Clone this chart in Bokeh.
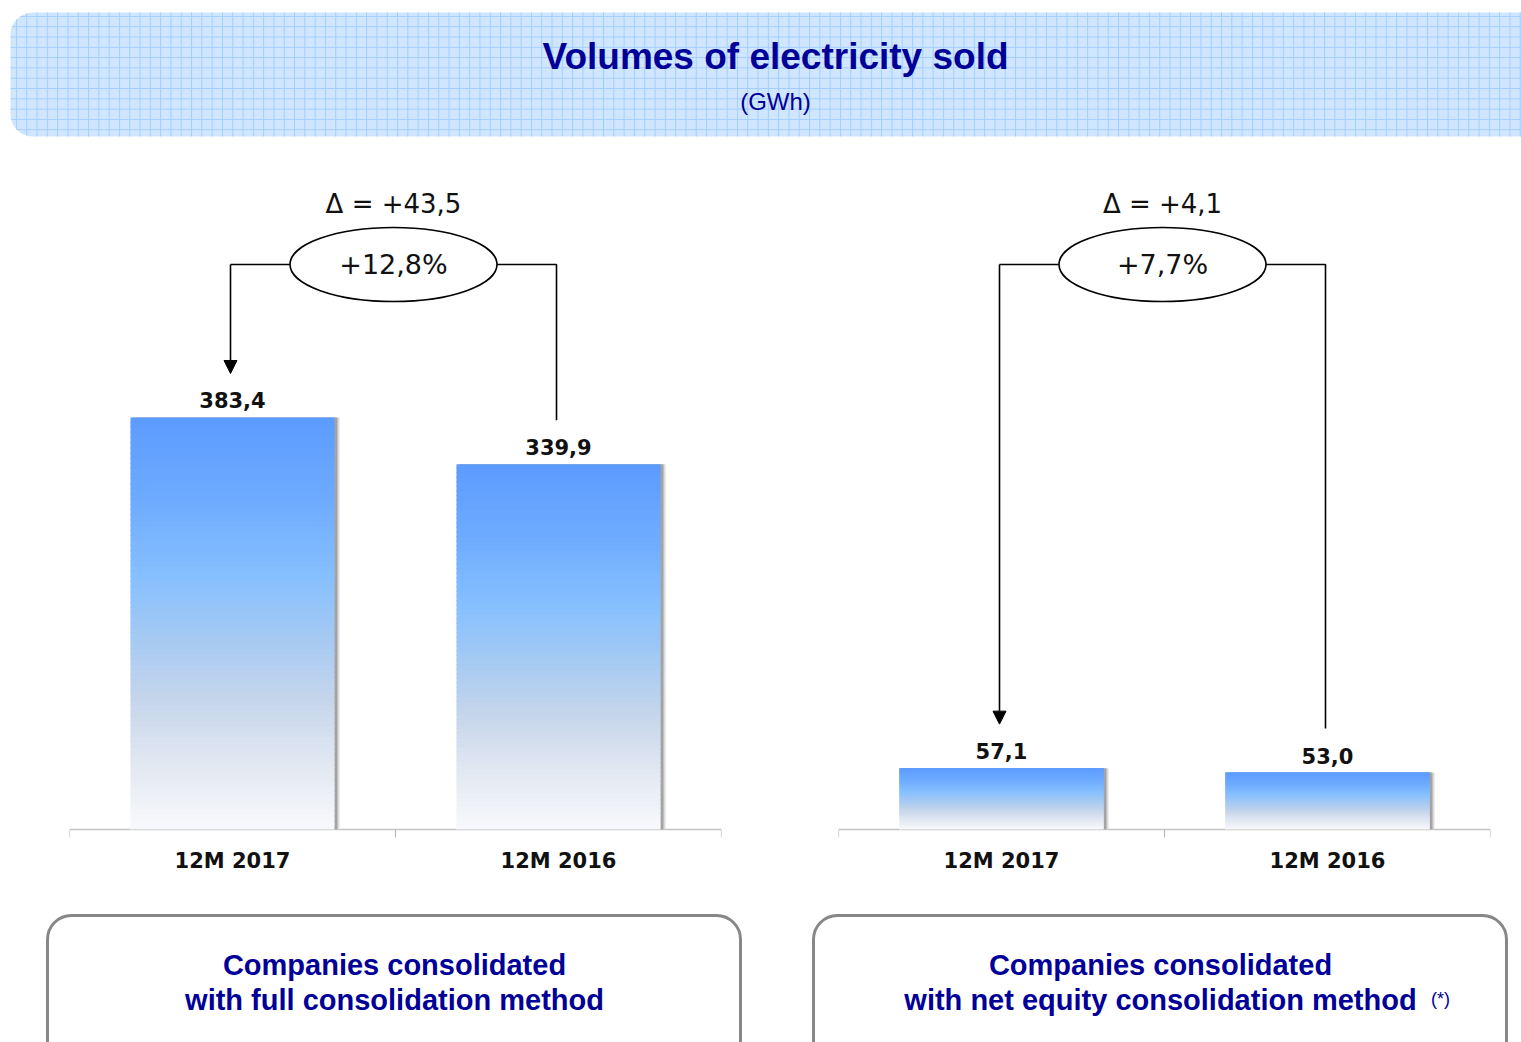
import numpy as np
from bokeh.plotting import figure
from bokeh.models import Range1d, ColumnDataSource, Arrow, NormalHead
from bokeh.layouts import column, row
from bokeh.core.properties import value
from bokeh.embed import file_html
from bokeh.resources import INLINE

# ---------------- data ----------------
title_text = "Volumes of electricity sold"
unit_text = "(GWh)"
categories = ["12M 2017", "12M 2016"]
full_values = [383.4, 339.9]
equity_values = [57.1, 53.0]
full_value_labels = ["383,4", "339,9"]
equity_value_labels = ["57,1", "53,0"]
full_delta = "Δ = +43,5"
equity_delta = "Δ = +4,1"
full_pct = "+12,8%"
equity_pct = "+7,7%"
full_caption = ["Companies consolidated", "with full consolidation method"]
equity_caption = ["Companies consolidated", "with net equity consolidation method"]
footnote_mark = "(*)"

# ---------------- layout / style ----------------
PAGE_W = 1521
HEADER_TOP, HEADER_BOTTOM = 0, 143
CHART_TOP, CHART_BOTTOM = 143, 900
BOX_TOP, BOX_BOTTOM = 900, 1042
SPLIT_X = 760
BASE_Y = 829          # page y of the zero line
K = 1.0746            # px per GWh
NAVY = "#000099"
VERDANA = value("DejaVu Sans")
ARIAL = value("Liberation Sans")
BAR_W = 0.626

grad_stops = [(0.0, "#f8f9fc"), (0.15, "#e3e9f2"), (0.31, "#c6d6eb"),
              (0.45, "#a8caf2"), (0.62, "#85bfff"), (0.80, "#6eabff"),
              (1.0, "#5c9bff")]


def hex2rgb(h):
    h = h.lstrip("#")
    return [int(h[i:i + 2], 16) for i in (0, 2, 4)]


def grad_color(t):
    for (t0, c0), (t1, c1) in zip(grad_stops[:-1], grad_stops[1:]):
        if t0 <= t <= t1:
            a = (t - t0) / (t1 - t0)
            r0, r1 = hex2rgb(c0), hex2rgb(c1)
            return "#%02x%02x%02x" % tuple(int(round(r0[i] + a * (r1[i] - r0[i]))) for i in range(3))
    return grad_stops[-1][1]


def base_fig(w, h, **kw):
    p = figure(width=w, height=h, toolbar_location=None, output_backend="svg",
               x_axis_location=None, y_axis_location=None, **kw)
    p.title.visible = False
    p.grid.visible = False
    p.outline_line_color = None
    p.background_fill_color = "white"
    p.border_fill_color = "white"
    return p


# ---------------- header ----------------
header = base_fig(PAGE_W, HEADER_BOTTOM - HEADER_TOP,
                  x_range=Range1d(0, PAGE_W), y_range=Range1d(HEADER_BOTTOM, HEADER_TOP),
                  min_border=0)
header.quad(left=[10], right=[1560], top=[12], bottom=[136], border_radius=(22, 0, 0, 22),
            fill_color="#d0e6ff", line_color=None,
            hatch_pattern="cross", hatch_color="#a2cdff", hatch_scale=10.3, hatch_weight=1)
header.text(x=[775], y=[56], text=[title_text], text_font=ARIAL, text_font_style="bold",
            text_font_size="37px", text_color=NAVY, text_align="center", text_baseline="middle")
header.text(x=[775], y=[101], text=[unit_text], text_font=ARIAL,
            text_font_size="24px", text_color=NAVY, text_align="center", text_baseline="middle")


# ---------------- charts ----------------
def chart(vals, vlabels, delta, pct, fig_left, fig_w, frame_left, frame_right):
    n = len(categories)
    p = base_fig(fig_w, CHART_BOTTOM - CHART_TOP,
                 x_range=Range1d(0, n),
                 y_range=Range1d((BASE_Y - CHART_BOTTOM) / K, (BASE_Y - CHART_TOP) / K),
                 min_border_left=frame_left - fig_left,
                 min_border_right=fig_left + fig_w - frame_right,
                 min_border_top=0, min_border_bottom=0)
    p.extra_x_ranges = {"px": Range1d(frame_left, frame_right)}
    p.extra_y_ranges = {"px": Range1d(CHART_BOTTOM, CHART_TOP)}
    band = (frame_right - frame_left) / n
    pos = [i + 0.5 for i in range(n)]                 # category centres (band units)
    cat_px = [frame_left + x * band for x in pos]     # same, in pixels

    # baseline axis
    p.segment(x0=[frame_left], x1=[frame_right], y0=[BASE_Y], y1=[BASE_Y],
              x_range_name="px", y_range_name="px", line_color="#c4c4c4", line_width=1.5)
    ticks = [frame_left + i * band for i in range(n + 1)]
    p.segment(x0=ticks, x1=ticks, y0=[BASE_Y] * len(ticks), y1=[BASE_Y + 8] * len(ticks),
              x_range_name="px", y_range_name="px", line_color="#b8b8b8", line_width=1.2)

    # shadows
    p.vbar(x=[x + 5.0 / band for x in pos], top=vals, bottom=0, width=BAR_W,
           fill_color="#dcdcdc", line_color=None)
    p.vbar(x=[x + 3.0 / band for x in pos], top=vals, bottom=0, width=BAR_W,
           fill_color="#a4a4a4", line_color=None)

    # gradient bars
    N = 80
    xs, bots, tops, cols = [], [], [], []
    for x, v in zip(pos, vals):
        for i in range(N):
            xs.append(x)
            bots.append(v * i / N)
            tops.append(min(v, v * (i + 1) / N + 1.2 / K))
            cols.append(grad_color((i + 0.5) / N))
    p.vbar(x="x", bottom="bottom", top="top", width=BAR_W, fill_color="color", line_color=None,
           source=ColumnDataSource(dict(x=xs, bottom=bots, top=tops, color=cols)))

    # value labels
    p.text(x=pos, y=[v + 9 / K for v in vals], text=vlabels, text_font=VERDANA,
           text_font_style="bold", text_font_size="21px", text_color="#111111",
           text_align="center", text_baseline="bottom")

    # category labels
    p.text(x=pos, y=[860] * n, y_range_name="px", text=categories,
           text_font=VERDANA, text_font_style="bold", text_font_size="21px",
           text_color="#111111", text_align="center", text_baseline="middle")

    # brackets
    cx = sum(cat_px) / n - 2
    ey = 264
    ends = [BASE_Y - v * K - 44 for v in vals]
    p.multi_line(xs=[[cx - 103, cat_px[0] - 2], [cx + 103, cat_px[1] - 2, cat_px[1] - 2]],
                 ys=[[ey, ey], [ey, ey, ends[1]]],
                 x_range_name="px", y_range_name="px", line_color="black", line_width=1.6)
    p.add_layout(Arrow(end=NormalHead(size=13, fill_color="black", line_color="black", line_width=1),
                       x_start=cat_px[0] - 2, y_start=ey, x_end=cat_px[0] - 2, y_end=ends[0],
                       x_range_name="px", y_range_name="px", line_color="black", line_width=1.6))
    p.ellipse(x=[cx], y=[ey], width=207, height=74, x_range_name="px", y_range_name="px",
              fill_color="white", line_color="black", line_width=1.6)
    p.text(x=[cx], y=[ey], text=[pct], x_range_name="px", y_range_name="px",
           text_font=VERDANA, text_font_size="27px", text_color="#111111",
           text_align="center", text_baseline="middle")
    p.text(x=[cx], y=[203], text=[delta], x_range_name="px", y_range_name="px",
           text_font=VERDANA, text_font_size="26px", text_color="#111111",
           text_align="center", text_baseline="middle")
    return p


left = chart(full_values, full_value_labels, full_delta, full_pct, 0, SPLIT_X, 69, 721)
right = chart(equity_values, equity_value_labels, equity_delta, equity_pct,
              SPLIT_X, PAGE_W - SPLIT_X, 838, 1490)

# ---------------- caption boxes ----------------
boxes = base_fig(PAGE_W, BOX_BOTTOM - BOX_TOP,
                 x_range=Range1d(0, PAGE_W), y_range=Range1d(BOX_BOTTOM, BOX_TOP),
                 min_border=0)
boxes.quad(left=[47, 813], right=[740, 1506], top=[915, 915], bottom=[1080, 1080],
           border_radius=24, fill_color="white", line_color="#878787", line_width=3)
for cx, cap in ((394, full_caption), (1160, equity_caption)):
    boxes.text(x=[cx, cx], y=[964, 999], text=cap, text_font=ARIAL, text_font_style="bold",
               text_font_size="29px", text_color=NAVY, text_align="center", text_baseline="middle")
boxes.text(x=[1440], y=[998], text=[footnote_mark], text_font=ARIAL, text_font_size="18px",
           text_color=NAVY, text_align="center", text_baseline="middle")

layout = column(header, row(left, right, spacing=0), boxes, spacing=0)
open("out.html", "w").write(file_html(layout, INLINE))
